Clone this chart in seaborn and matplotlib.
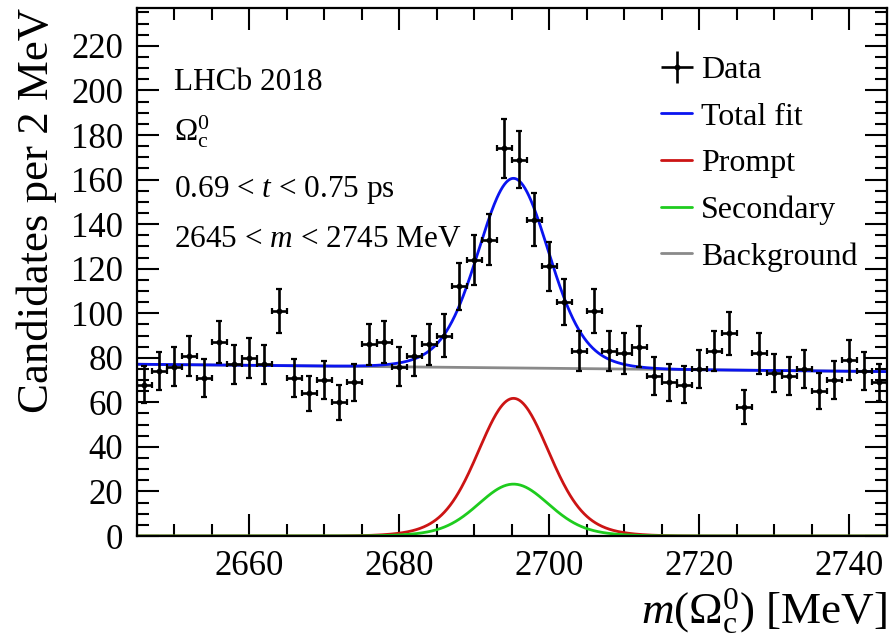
import numpy as np
import pandas as pd
import matplotlib
matplotlib.use("Agg")
import matplotlib.pyplot as plt
from matplotlib.ticker import MultipleLocator
import seaborn as sns

# Binned candidates, 2 MeV bins from 2645 to 2745 MeV
bin_centers = np.arange(2646, 2745, 2)
counts = [68, 74, 76, 81, 71, 87, 77, 80, 77, 101,
          71, 64, 70, 60, 69, 86, 87, 76, 81, 86,
          90, 112, 124, 133, 174, 169, 142, 121, 105, 83,
          101, 83, 82, 85, 72, 69, 68, 75, 83, 91,
          58, 82, 73, 72, 75, 65, 70, 79, 74, 69]

# Fit parameters
peak_mean = 2695.2
core_sigma = 4.4
tail_sigma = 7.0
core_frac = 0.8
prompt_peak = 61.8
secondary_peak = 23.3
bkg_start = 77.1
bkg_end = 73.8

x_lo, x_hi = 2645, 2745
y_hi = 237

sns.set_theme(style="ticks")
plt.rcParams["font.family"] = ["Liberation Serif", "DejaVu Serif"]
plt.rcParams["mathtext.fontset"] = "custom"
plt.rcParams["mathtext.rm"] = "Liberation Serif"
plt.rcParams["mathtext.it"] = "Liberation Serif:italic"
for key in ["text.color", "axes.labelcolor", "xtick.color", "ytick.color",
            "axes.edgecolor"]:
    plt.rcParams[key] = "black"


def peak_shape(m):
    d = m - peak_mean
    return (core_frac * np.exp(-0.5 * (d / core_sigma) ** 2)
            + (1 - core_frac) * np.exp(-0.5 * (d / tail_sigma) ** 2))


mass = np.linspace(x_lo, x_hi, 801)
background = bkg_start + (bkg_end - bkg_start) * (mass - x_lo) / (x_hi - x_lo)
prompt = prompt_peak * peak_shape(mass)
secondary = secondary_peak * peak_shape(mass)
total = background + prompt + secondary

curves = pd.DataFrame({
    "mass": np.tile(mass, 4),
    "value": np.concatenate([background, prompt, secondary, total]),
    "component": np.repeat(["Background", "Prompt", "Secondary", "Total fit"], len(mass)),
})
palette = {"Background": "#8a8a8a", "Prompt": "#cc1414",
           "Secondary": "#1ecc1e", "Total fit": "#0a14f0"}

fig = plt.figure(figsize=(8.89, 6.36), dpi=100)
ax = fig.add_axes([0.1541, 0.1572, 0.8436, 0.8302])

sns.lineplot(data=curves, x="mass", y="value", hue="component",
             hue_order=["Background", "Prompt", "Secondary", "Total fit"],
             palette=palette, linewidth=2.0, legend=False, ax=ax)

counts_arr = np.array(counts, dtype=float)
err_kw = dict(fmt="o", color="black", markersize=3.2, elinewidth=1.9,
              capsize=2.3, capthick=1.6)
ax.errorbar(bin_centers, counts_arr, yerr=np.sqrt(counts_arr), xerr=1.0,
            zorder=5, **err_kw)

ax.set_xlim(x_lo, x_hi)
ax.set_ylim(0, y_hi)
ax.xaxis.set_major_locator(MultipleLocator(20))
ax.xaxis.set_minor_locator(MultipleLocator(5))
ax.yaxis.set_major_locator(MultipleLocator(20))
ax.yaxis.set_minor_locator(MultipleLocator(5))
ax.tick_params(which="both", direction="in", top=True, right=True,
               width=1.5, colors="black")
ax.tick_params(which="major", length=16)
ax.tick_params(which="minor", length=8.5)
ax.tick_params(axis="x", which="major", labelsize=25, pad=10)
ax.tick_params(axis="y", which="major", labelsize=25, pad=10)
for spine in ax.spines.values():
    spine.set_linewidth(1.6)
    spine.set_color("black")
    spine.set_visible(True)

ax.set_xlabel(r"$m$($\Omega_\mathrm{c}^{0}$) [MeV]", fontsize=32.5, loc="right")
ax.set_ylabel("Candidates per 2 MeV", fontsize=32.3, loc="top")
ax.xaxis.set_label_coords(1.0, -0.095)
ax.yaxis.set_label_coords(-0.107, 1.0)

txt_kw = dict(transform=ax.transAxes, fontsize=22.5, ha="left", va="center")
ax.text(0.050, 0.858, "LHCb 2018", **txt_kw)
ax.text(0.050, 0.766, r"$\Omega_\mathrm{c}^{0}$", **txt_kw)
ax.text(0.050, 0.656, r"0.69 < $t$ < 0.75 ps", **txt_kw)
ax.text(0.050, 0.561, r"2645 < $m$ < 2745 MeV", **txt_kw)

data_handle = ax.errorbar([], [], yerr=[], xerr=[], **err_kw)
line_handles = [plt.Line2D([], [], color=palette[k], linewidth=2.0)
                for k in ["Total fit", "Prompt", "Secondary", "Background"]]
labels = ["Data", "Total fit", "Prompt", "Secondary", "Background"]
ax.legend([data_handle] + line_handles, labels, loc="upper left",
          bbox_to_anchor=(0.699, 0.91), frameon=False, fontsize=23,
          handlelength=0.97, handletextpad=0.27, labelspacing=0.54,
          borderpad=0, borderaxespad=0)

fig.savefig("out.png", dpi=100)
